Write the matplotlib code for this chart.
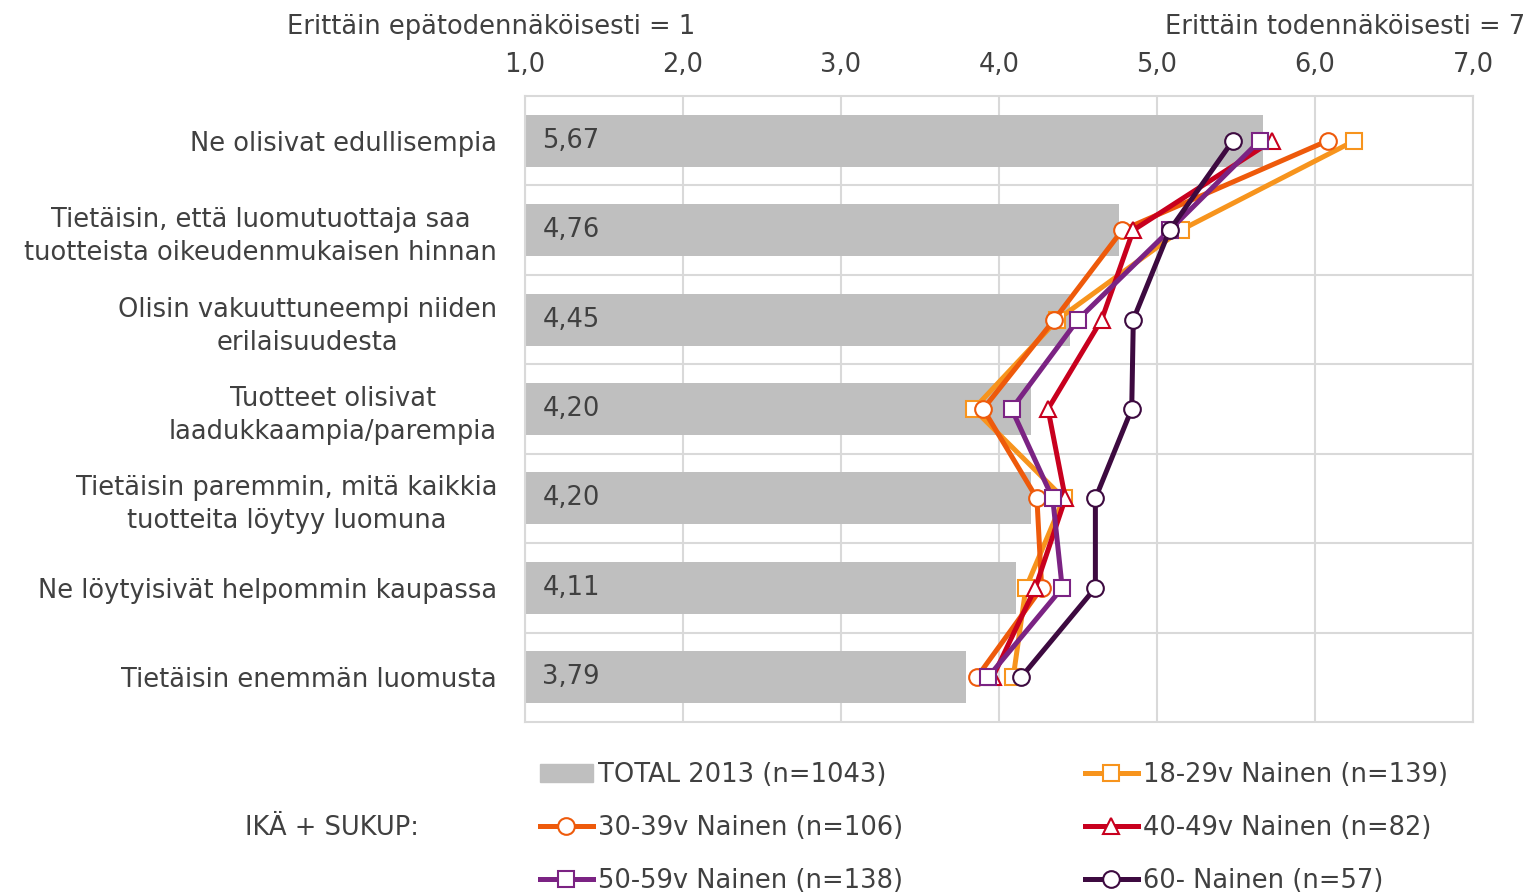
import numpy as np
import matplotlib.pyplot as plt
from matplotlib.patches import Patch
from matplotlib.lines import Line2D

plt.rcParams['font.family'] = 'DejaVu Sans'
txt = '#404040'
fs = 18.5

# data
categories = ['Ne olisivat edullisempia',
              'Tietäisin, että luomutuottaja saa\ntuotteista oikeudenmukaisen hinnan',
              'Olisin vakuuttuneempi niiden\nerilaisuudesta',
              'Tuotteet olisivat\nlaadukkaampia/parempia',
              'Tietäisin paremmin, mitä kaikkia\ntuotteita löytyy luomuna',
              'Ne löytyisivät helpommin kaupassa',
              'Tietäisin enemmän luomusta']
total = [5.67, 4.76, 4.45, 4.20, 4.20, 4.11, 3.79]
total_label = 'TOTAL 2013 (n=1043)'

series_names = ['18-29v Nainen (n=139)', '30-39v Nainen (n=106)', '40-49v Nainen (n=82)',
                '50-59v Nainen (n=138)', '60- Nainen (n=57)']
s18 = [6.25, 5.15, 4.37, 3.84, 4.41, 4.17, 4.09]
s30 = [6.08, 4.78, 4.35, 3.90, 4.24, 4.27, 3.86]
s40 = [5.73, 4.85, 4.65, 4.31, 4.42, 4.23, 3.96]
s50 = [5.65, 5.08, 4.50, 4.08, 4.34, 4.40, 3.93]
s60 = [5.48, 5.08, 4.85, 4.84, 4.61, 4.61, 4.14]
series = [s18, s30, s40, s50, s60]
colors = ['#F7941D', '#EE5A0B', '#C8001E', '#7B2383', '#3D0A40']
markers = ['s', 'o', '^', 's', 'o']
msizes = [11.5, 12, 12, 11.5, 12]

fig = plt.figure(figsize=(15.28, 8.94), dpi=100)
ax = fig.add_axes([0.3436, 0.1924, 0.6204, 0.7002])

y = np.arange(len(categories))
ax.barh(y, np.array(total) - 1, left=1, height=0.58, color='#BFBFBF', zorder=2)
for yi, v in zip(y, total):
    ax.text(1.11, yi, f'{v:.2f}'.replace('.', ','), va='center', ha='left',
            fontsize=fs, color=txt, zorder=3)

for vals, c, m, ms in zip(series, colors, markers, msizes):
    ax.plot(vals, y, color=c, lw=3.6, marker=m, markersize=ms, mfc='white',
            mec=c, mew=1.5, zorder=4)

ax.set_xlim(1, 7)
ax.set_ylim(len(categories) - 0.5, -0.5)
ax.xaxis.tick_top()
ax.set_xticks(range(1, 8))
ax.set_xticklabels([f'{i},0' for i in range(1, 8)], fontsize=fs, color=txt)
ax.set_yticks(y)
ax.set_yticklabels(categories, fontsize=fs, color=txt)
ax.tick_params(length=0, axis='x', pad=13)
ax.tick_params(length=0, axis='y', pad=20)
for lab in ax.get_yticklabels():
    lab.set_multialignment('center')
    lab.set_linespacing(1.35)

ax.set_yticks(np.arange(0.5, len(categories) - 0.5), minor=True)
ax.tick_params(which='minor', length=0)
ax.grid(axis='x', color='#D9D9D9', lw=1.5, zorder=0)
ax.grid(axis='y', which='minor', color='#D9D9D9', lw=1.5, zorder=0)
ax.grid(axis='y', which='major', visible=False)
for sp in ax.spines.values():
    sp.set_color('#D9D9D9')
    sp.set_linewidth(1.5)

fig.text(287 / 1528, 1 - 27 / 894, 'Erittäin epätodennäköisesti = 1', fontsize=fs,
         color=txt, ha='left', va='center')
fig.text(1525 / 1528, 1 - 27 / 894, 'Erittäin todennäköisesti = 7', fontsize=fs,
         color=txt, ha='right', va='center')
fig.text(245 / 1528, 1 - 828 / 894, 'IKÄ + SUKUP:', fontsize=fs, color=txt,
         ha='left', va='center')

handles = [Patch(color='#BFBFBF', label=total_label)]
for n, c, m, ms in zip(series_names, colors, markers, msizes):
    handles.append(Line2D([], [], color=c, lw=3.6, marker=m, markersize=ms, mfc='white',
                          mec=c, mew=1.5, label=n))

leg_kw = dict(loc='center left', frameon=False, fontsize=fs, handlelength=2.05,
              handletextpad=0.2, labelspacing=1.05, borderpad=0, borderaxespad=0)
col1 = [handles[0], handles[2], handles[4]]
col2 = [handles[1], handles[3], handles[5]]
for col, x0 in [(col1, 540), (col2, 1085)]:
    leg = fig.legend(col, [h.get_label() for h in col],
                     bbox_to_anchor=(x0 / 1528, 1 - 828 / 894), **leg_kw)
    for t in leg.get_texts():
        t.set_color(txt)

fig.savefig('out.png', dpi=100)
